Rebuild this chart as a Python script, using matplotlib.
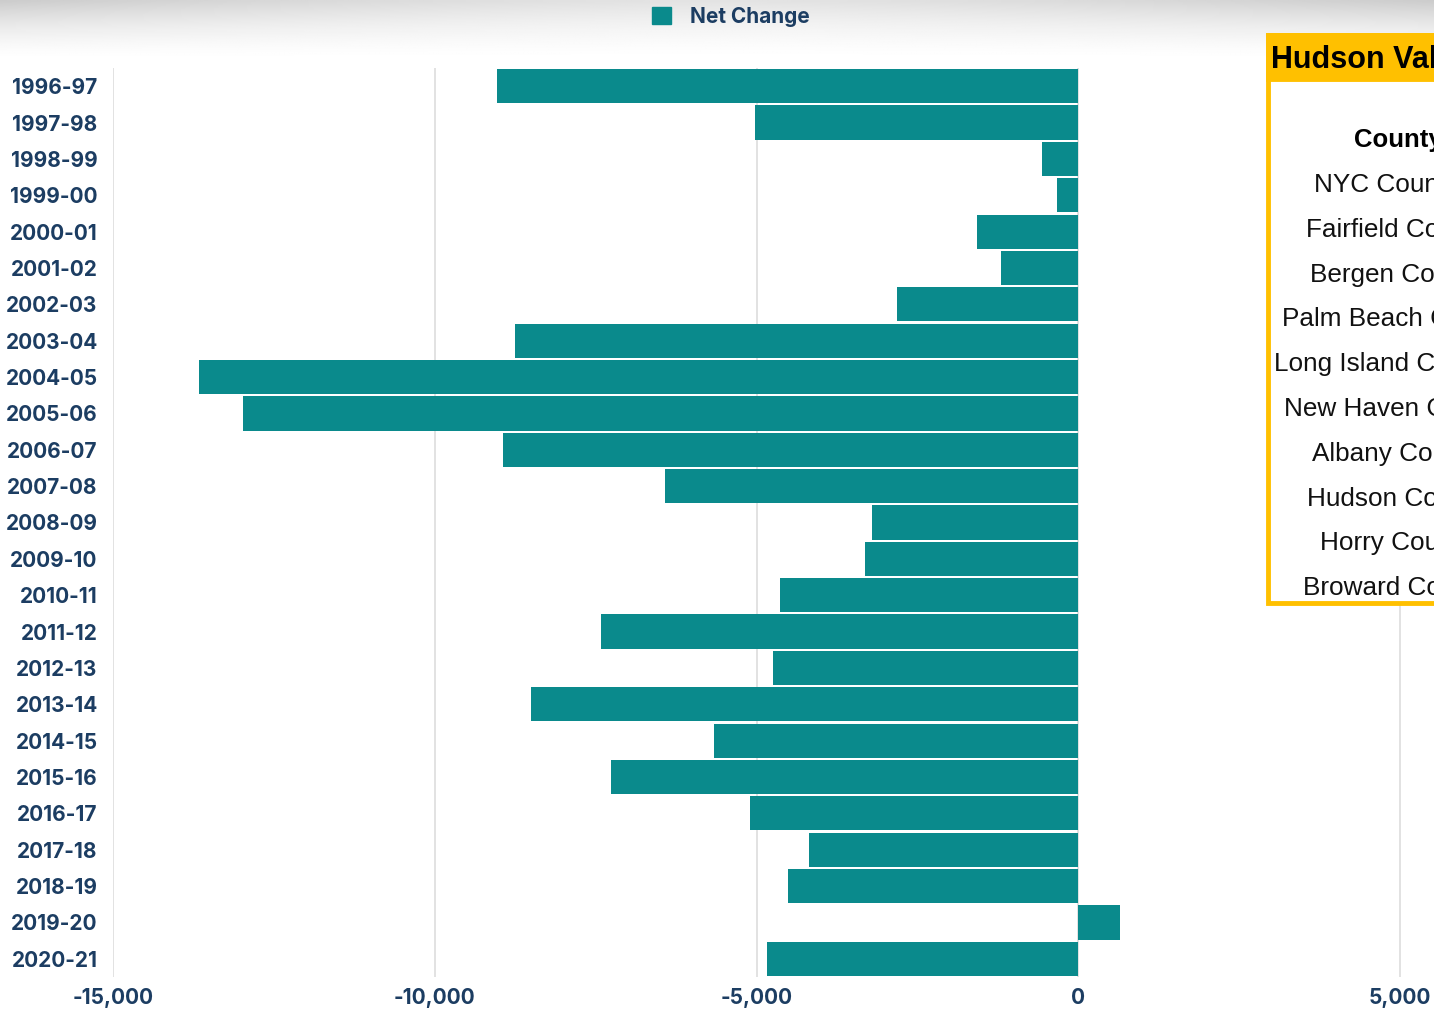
import matplotlib.pyplot as plt
import numpy as np
from matplotlib.patches import Rectangle, Patch

# данные графика
years = ['1996-97', '1997-98', '1998-99', '1999-00', '2000-01', '2001-02',
         '2002-03', '2003-04', '2004-05', '2005-06', '2006-07', '2007-08',
         '2008-09', '2009-10', '2010-11', '2011-12', '2012-13', '2013-14',
         '2014-15', '2015-16', '2016-17', '2017-18', '2018-19', '2019-20',
         '2020-21']
net_change = [-9030, -5020, -560, -330, -1570, -1200, -2820, -8750, -13670,
              -12980, -8940, -6420, -3200, -3310, -4630, -7420, -4740, -8510,
              -5660, -7260, -5100, -4180, -4510, 650, -4840]
xticks = [-15000, -10000, -5000, 0, 5000]

table_title = 'Hudson Valley Migration'
table_header = 'County'
counties = ['NYC Counties', 'Fairfield County', 'Bergen County',
            'Palm Beach County', 'Long Island Counties', 'New Haven County',
            'Albany County', 'Hudson County', 'Horry County', 'Broward County']

BAR = '#0a8a8c'
LABEL = '#1c3d62'
FONT = 'Inter'
W, H = 1434, 1011

fig = plt.figure(figsize=(W / 100, H / 100), dpi=100)
fig.patch.set_facecolor('white')

# серая тень сверху
shadow = fig.add_axes([0, 1 - 62 / H, 1, 62 / H], zorder=0)
gy = np.linspace(1, 0, 60)[:, None]
gx = np.linspace(-1, 1, 300)[None, :]
shade = 1 - 0.2 * gy ** 1.6 * (0.55 + 0.45 * np.abs(gx) ** 1.5)
shadow.imshow(shade, cmap='gray', vmin=0, vmax=1, aspect='auto',
              interpolation='bilinear')
shadow.axis('off')

# основной график
ax = fig.add_axes([113 / W, 1 - 977 / H, 1 - 113 / W, (977 - 68) / H], zorder=1)
ax.patch.set_alpha(0)
y = np.arange(len(years))
ax.barh(y, net_change, height=0.94, color=BAR, zorder=3)
ax.set_ylim(len(years) - 0.5, -0.5)
ax.set_xlim(-15000, 5000 + (W - 1400) * 5000 / 322)
ax.set_xticks(xticks)
ax.set_xticklabels([f'{v:,}' for v in xticks])
ax.set_yticks(y)
ax.set_yticklabels(years)
for s in ax.spines.values():
    s.set_visible(False)
ax.grid(axis='x', color='#dddddd', lw=1.2, zorder=0)
ax.tick_params(axis='both', length=0, labelcolor=LABEL, labelsize=15)
ax.tick_params(axis='x', pad=8)
ax.tick_params(axis='y', pad=11)
for lbl in ax.get_xticklabels() + ax.get_yticklabels():
    lbl.set_fontfamily(FONT)
    lbl.set_fontweight('bold')

# легенда
fig.legend(handles=[Patch(color=BAR)], labels=['Net Change'],
           loc='center', bbox_to_anchor=(731 / W, 1 - 17 / H), frameon=False,
           handlelength=0.9, handleheight=0.9, handletextpad=0.9,
           prop={'family': FONT, 'weight': 'bold', 'size': 15},
           labelcolor=LABEL)

# таблица поверх графика
ov = fig.add_axes([0, 0, 1, 1], zorder=5)
ov.set_xlim(0, W)
ov.set_ylim(H, 0)
ov.axis('off')
ov.add_patch(Rectangle((1268, 35), 200, 568, facecolor='white',
                       edgecolor='#ffc000', lw=3.5))
ov.add_patch(Rectangle((1268, 35), 200, 44, facecolor='#ffc000',
                       edgecolor='#ffc000', lw=3.5))
ov.text(1271, 60, table_title, fontsize=22, fontweight='bold',
        family='Liberation Sans', va='center', ha='left', color='black')
ov.text(1398, 140, table_header, fontsize=18.5, fontweight='bold',
        family='Liberation Sans', va='center', ha='center', color='black')
for i, c in enumerate(counties):
    ov.text(1397, 185 + i * 44.8, c, fontsize=18.8, family='Liberation Sans',
            va='center', ha='center', color='#111111')

plt.savefig('out.png', dpi=100)
